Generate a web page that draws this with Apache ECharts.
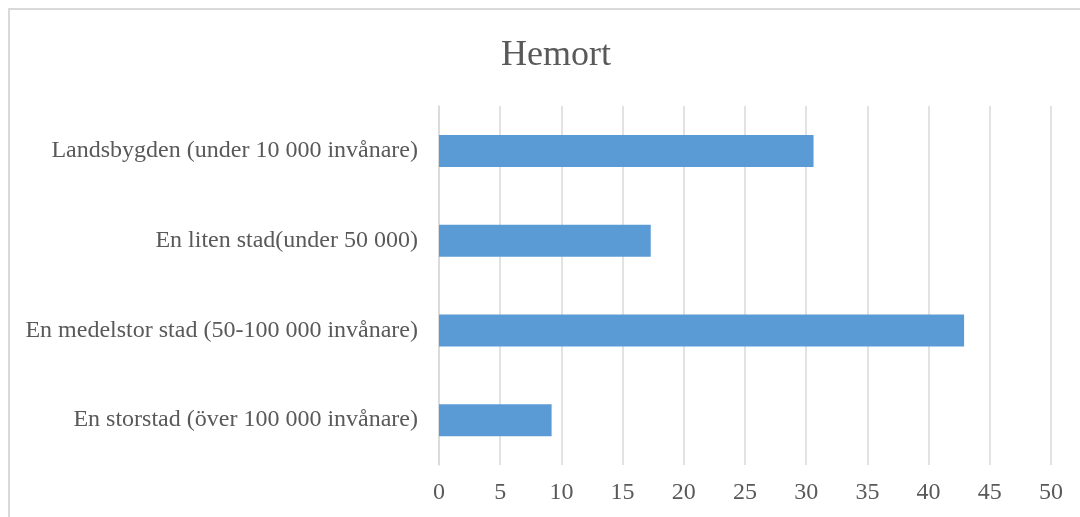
<!DOCTYPE html>
<html>
<head>
<meta charset="utf-8">
<script src="https://cdn.jsdelivr.net/npm/echarts@6/dist/echarts.min.js"></script>
<style>html,body{margin:0;padding:0;background:#fff}#c{width:1080px;height:517px}</style>
</head>
<body>
<div id="c"></div>
<script>
const categories = ['En storstad (över 100 000 invånare)', 'En medelstor stad (50-100 000 invånare)', 'En liten stad(under 50 000)', 'Landsbygden (under 10 000 invånare)'];
const values = [9.2, 42.9, 17.3, 30.6];
const titleText = 'Hemort';

const chart = echarts.init(document.getElementById('c'), null, {renderer: 'canvas'});
const font = '"Liberation Serif", "Times New Roman", serif';
chart.setOption({
  animation: false,
  backgroundColor: '#fff',
  title: {
    text: titleText, left: 496, top: 33,
    textStyle: {fontFamily: font, fontSize: 36, fontWeight: 'normal', color: '#595959'}
  },
  graphic: [{
    type: 'rect', shape: {x: 9, y: 9, width: 1200, height: 700},
    style: {fill: 'none', stroke: '#d9d9d9', lineWidth: 2}, silent: true
  }],
  grid: {left: 439, right: 29, top: 106, bottom: 52},
  xAxis: {
    type: 'value', min: 0, max: 50, interval: 5,
    axisLine: {show: false}, axisTick: {show: false},
    splitLine: {lineStyle: {color: '#d9d9d9', width: 1.5}},
    axisLabel: {fontFamily: font, fontSize: 24, color: '#595959', margin: 16}
  },
  yAxis: {
    type: 'category', data: categories,
    axisLine: {show: true, lineStyle: {color: '#d9d9d9', width: 1.5}},
    axisTick: {show: false},
    axisLabel: {fontFamily: font, fontSize: 24, color: '#595959', margin: 21}
  },
  series: [{
    type: 'bar', data: values, barWidth: 32,
    itemStyle: {color: '#5b9bd5'}
  }]
});
</script>
</body>
</html>
